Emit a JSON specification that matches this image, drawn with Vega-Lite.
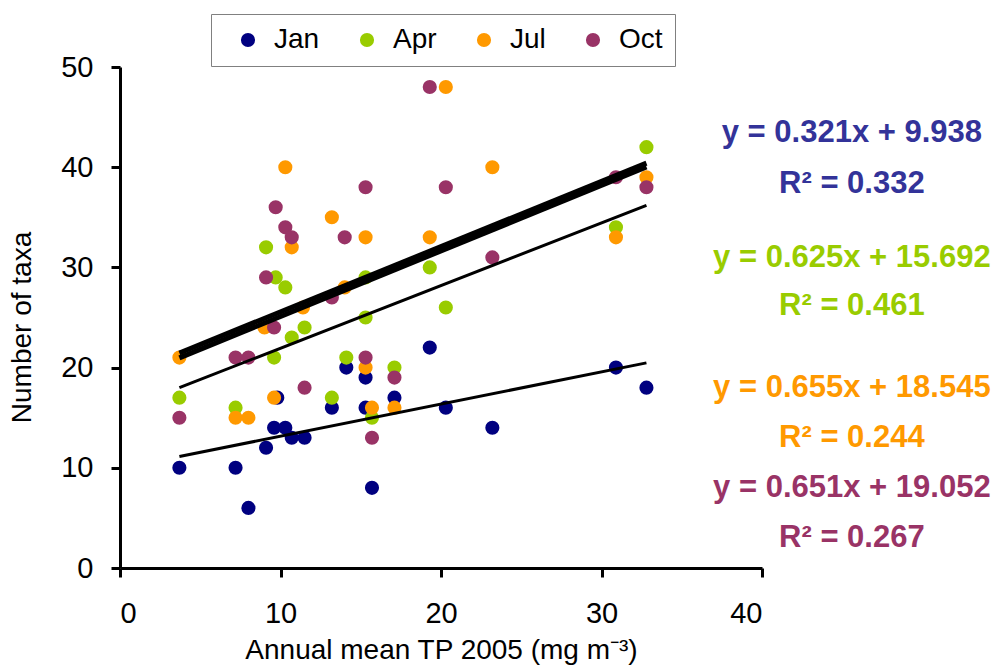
{
  "$schema": "https://vega.github.io/schema/vega-lite/v6.json",
  "width": 642,
  "height": 501,
  "autosize": "none",
  "padding": {"left": 120, "top": 67, "right": 235, "bottom": 102},
  "background": "white",
  "config": {
    "view": {"stroke": null},
    "font": "Liberation Sans",
    "axis": {
      "domainColor": "black", "domainWidth": 3, "tickColor": "black", "tickWidth": 3, "tickSize": 9,
      "labelFont": "Liberation Sans", "labelFontSize": 29, "labelColor": "black",
      "titleFont": "Liberation Sans", "titleFontSize": 28, "titleFontWeight": "normal", "titleColor": "black",
      "grid": false
    },
    "legend": {
      "labelFont": "Liberation Sans", "labelFontSize": 28, "labelColor": "black"
    }
  },
  "datasets": {
    "points": [
      {"month": "Jan", "tp": 3.7, "taxa": 10}, {"month": "Jan", "tp": 7.2, "taxa": 10}, {"month": "Jan", "tp": 8.0, "taxa": 6},
      {"month": "Jan", "tp": 9.1, "taxa": 12}, {"month": "Jan", "tp": 9.6, "taxa": 14}, {"month": "Jan", "tp": 9.8, "taxa": 17},
      {"month": "Jan", "tp": 10.3, "taxa": 14}, {"month": "Jan", "tp": 10.7, "taxa": 13}, {"month": "Jan", "tp": 11.5, "taxa": 13},
      {"month": "Jan", "tp": 13.2, "taxa": 16}, {"month": "Jan", "tp": 14.1, "taxa": 20}, {"month": "Jan", "tp": 15.3, "taxa": 19},
      {"month": "Jan", "tp": 15.3, "taxa": 16}, {"month": "Jan", "tp": 15.7, "taxa": 8}, {"month": "Jan", "tp": 17.1, "taxa": 17},
      {"month": "Jan", "tp": 19.3, "taxa": 22}, {"month": "Jan", "tp": 20.3, "taxa": 16}, {"month": "Jan", "tp": 23.2, "taxa": 14},
      {"month": "Jan", "tp": 30.9, "taxa": 20}, {"month": "Jan", "tp": 32.8, "taxa": 18},
      {"month": "Apr", "tp": 3.7, "taxa": 17}, {"month": "Apr", "tp": 7.2, "taxa": 16}, {"month": "Apr", "tp": 9.1, "taxa": 32},
      {"month": "Apr", "tp": 9.6, "taxa": 21}, {"month": "Apr", "tp": 9.7, "taxa": 29}, {"month": "Apr", "tp": 10.3, "taxa": 28},
      {"month": "Apr", "tp": 10.7, "taxa": 23}, {"month": "Apr", "tp": 11.5, "taxa": 24}, {"month": "Apr", "tp": 13.2, "taxa": 17},
      {"month": "Apr", "tp": 14.1, "taxa": 21}, {"month": "Apr", "tp": 15.3, "taxa": 29}, {"month": "Apr", "tp": 15.3, "taxa": 25},
      {"month": "Apr", "tp": 15.7, "taxa": 15}, {"month": "Apr", "tp": 17.1, "taxa": 20}, {"month": "Apr", "tp": 19.3, "taxa": 30},
      {"month": "Apr", "tp": 20.3, "taxa": 26}, {"month": "Apr", "tp": 30.9, "taxa": 34}, {"month": "Apr", "tp": 32.8, "taxa": 42},
      {"month": "Jul", "tp": 3.7, "taxa": 21}, {"month": "Jul", "tp": 7.2, "taxa": 15}, {"month": "Jul", "tp": 8.0, "taxa": 15},
      {"month": "Jul", "tp": 9.0, "taxa": 24}, {"month": "Jul", "tp": 9.6, "taxa": 17}, {"month": "Jul", "tp": 10.3, "taxa": 40},
      {"month": "Jul", "tp": 10.7, "taxa": 32}, {"month": "Jul", "tp": 11.4, "taxa": 26}, {"month": "Jul", "tp": 13.2, "taxa": 35},
      {"month": "Jul", "tp": 14.0, "taxa": 28}, {"month": "Jul", "tp": 15.3, "taxa": 33}, {"month": "Jul", "tp": 15.3, "taxa": 20},
      {"month": "Jul", "tp": 15.7, "taxa": 16}, {"month": "Jul", "tp": 17.1, "taxa": 16}, {"month": "Jul", "tp": 19.3, "taxa": 33},
      {"month": "Jul", "tp": 20.3, "taxa": 48}, {"month": "Jul", "tp": 23.2, "taxa": 40}, {"month": "Jul", "tp": 30.9, "taxa": 33},
      {"month": "Jul", "tp": 32.8, "taxa": 39},
      {"month": "Oct", "tp": 3.7, "taxa": 15}, {"month": "Oct", "tp": 7.2, "taxa": 21}, {"month": "Oct", "tp": 8.0, "taxa": 21},
      {"month": "Oct", "tp": 9.1, "taxa": 29}, {"month": "Oct", "tp": 9.6, "taxa": 24}, {"month": "Oct", "tp": 9.7, "taxa": 36},
      {"month": "Oct", "tp": 10.3, "taxa": 34}, {"month": "Oct", "tp": 10.7, "taxa": 33}, {"month": "Oct", "tp": 11.5, "taxa": 18},
      {"month": "Oct", "tp": 13.2, "taxa": 27}, {"month": "Oct", "tp": 14.0, "taxa": 33}, {"month": "Oct", "tp": 15.3, "taxa": 38},
      {"month": "Oct", "tp": 15.3, "taxa": 21}, {"month": "Oct", "tp": 15.7, "taxa": 13}, {"month": "Oct", "tp": 17.1, "taxa": 19},
      {"month": "Oct", "tp": 19.3, "taxa": 48}, {"month": "Oct", "tp": 20.3, "taxa": 38}, {"month": "Oct", "tp": 23.2, "taxa": 31},
      {"month": "Oct", "tp": 30.9, "taxa": 39}, {"month": "Oct", "tp": 32.8, "taxa": 38}
    ],
    "fits": [
      {"month": "Jan", "tp": 3.7, "taxa": 11.13}, {"month": "Jan", "tp": 32.8, "taxa": 20.47},
      {"month": "Apr", "tp": 3.7, "taxa": 18.00}, {"month": "Apr", "tp": 32.8, "taxa": 36.19},
      {"month": "Jul", "tp": 3.7, "taxa": 20.97}, {"month": "Jul", "tp": 32.8, "taxa": 40.03},
      {"month": "Oct", "tp": 3.7, "taxa": 21.46}, {"month": "Oct", "tp": 32.8, "taxa": 40.41}
    ],
    "labels": [
      {"month": "Jan", "text": "y = 0.321x + 9.938", "tp": 45.6, "taxa": 42.5},
      {"month": "Jan", "text": "R² = 0.332", "tp": 45.6, "taxa": 37.4},
      {"month": "Apr", "text": "y = 0.625x + 15.692", "tp": 45.6, "taxa": 30.0},
      {"month": "Apr", "text": "R² = 0.461", "tp": 45.6, "taxa": 25.2},
      {"month": "Jul", "text": "y = 0.655x + 18.545", "tp": 45.6, "taxa": 17.1},
      {"month": "Jul", "text": "R² = 0.244", "tp": 45.6, "taxa": 12.1},
      {"month": "Oct", "text": "y = 0.651x + 19.052", "tp": 45.6, "taxa": 7.1},
      {"month": "Oct", "text": "R² = 0.267", "tp": 45.6, "taxa": 2.1}
    ]
  },
  "layer": [
    {
      "data": {"name": "points"},
      "mark": {"type": "point", "filled": true, "shape": "circle", "size": 200, "opacity": 1},
      "encoding": {
        "x": {"field": "tp", "type": "quantitative", "title": "Annual mean TP 2005 (mg m⁻³)",
              "scale": {"domain": [0, 40], "nice": false, "zero": true},
              "axis": {"values": [0, 10, 20, 30, 40], "labelPadding": 22, "titlePadding": 8}},
        "y": {"field": "taxa", "type": "quantitative", "title": "Number of taxa",
              "scale": {"domain": [0, 50], "nice": false},
              "axis": {"values": [0, 10, 20, 30, 40, 50], "labelPadding": 18, "titlePadding": 24, "titleY": 260}},
        "color": {"field": "month", "type": "nominal",
                  "scale": {"domain": ["Jan", "Apr", "Jul", "Oct"], "range": ["#000080", "#99CC00", "#FF9900", "#993366"]},
                  "legend": {"title": null, "orient": "none", "direction": "horizontal", "legendX": 91, "legendY": -53,
                             "symbolType": "circle", "symbolSize": 200, "symbolStrokeWidth": 0, "symbolOpacity": 1,
                             "labelOffset": 12, "columnPadding": 22, "padding": 12, "symbolOffset": 11,
                             "strokeColor": "#808080", "fillColor": "white", "labelFontSize": 28}}
      }
    },
    {
      "data": {"name": "fits"},
      "transform": [{"filter": "datum.month === 'Jan' || datum.month === 'Apr'"}],
      "mark": {"type": "line", "color": "black", "strokeWidth": 3},
      "encoding": {
        "x": {"field": "tp", "type": "quantitative"},
        "y": {"field": "taxa", "type": "quantitative"},
        "detail": {"field": "month", "type": "nominal"}
      }
    },
    {
      "data": {"name": "fits"},
      "transform": [{"filter": "datum.month === 'Jul' || datum.month === 'Oct'"}],
      "mark": {"type": "line", "color": "black", "strokeWidth": 5},
      "encoding": {
        "x": {"field": "tp", "type": "quantitative"},
        "y": {"field": "taxa", "type": "quantitative"},
        "detail": {"field": "month", "type": "nominal"}
      }
    },
    {
      "data": {"name": "labels"},
      "mark": {"type": "text", "fontSize": 31, "fontWeight": "bold", "align": "center", "baseline": "alphabetic", "font": "Liberation Sans"},
      "encoding": {
        "x": {"field": "tp", "type": "quantitative"},
        "y": {"field": "taxa", "type": "quantitative"},
        "text": {"field": "text", "type": "nominal"},
        "color": {"field": "month", "type": "nominal",
                  "scale": {"domain": ["Jan", "Apr", "Jul", "Oct"], "range": ["#333399", "#99CC00", "#FF9900", "#993366"]},
                  "legend": null}
      }
    }
  ],
  "resolve": {"scale": {"color": "independent"}}
}
